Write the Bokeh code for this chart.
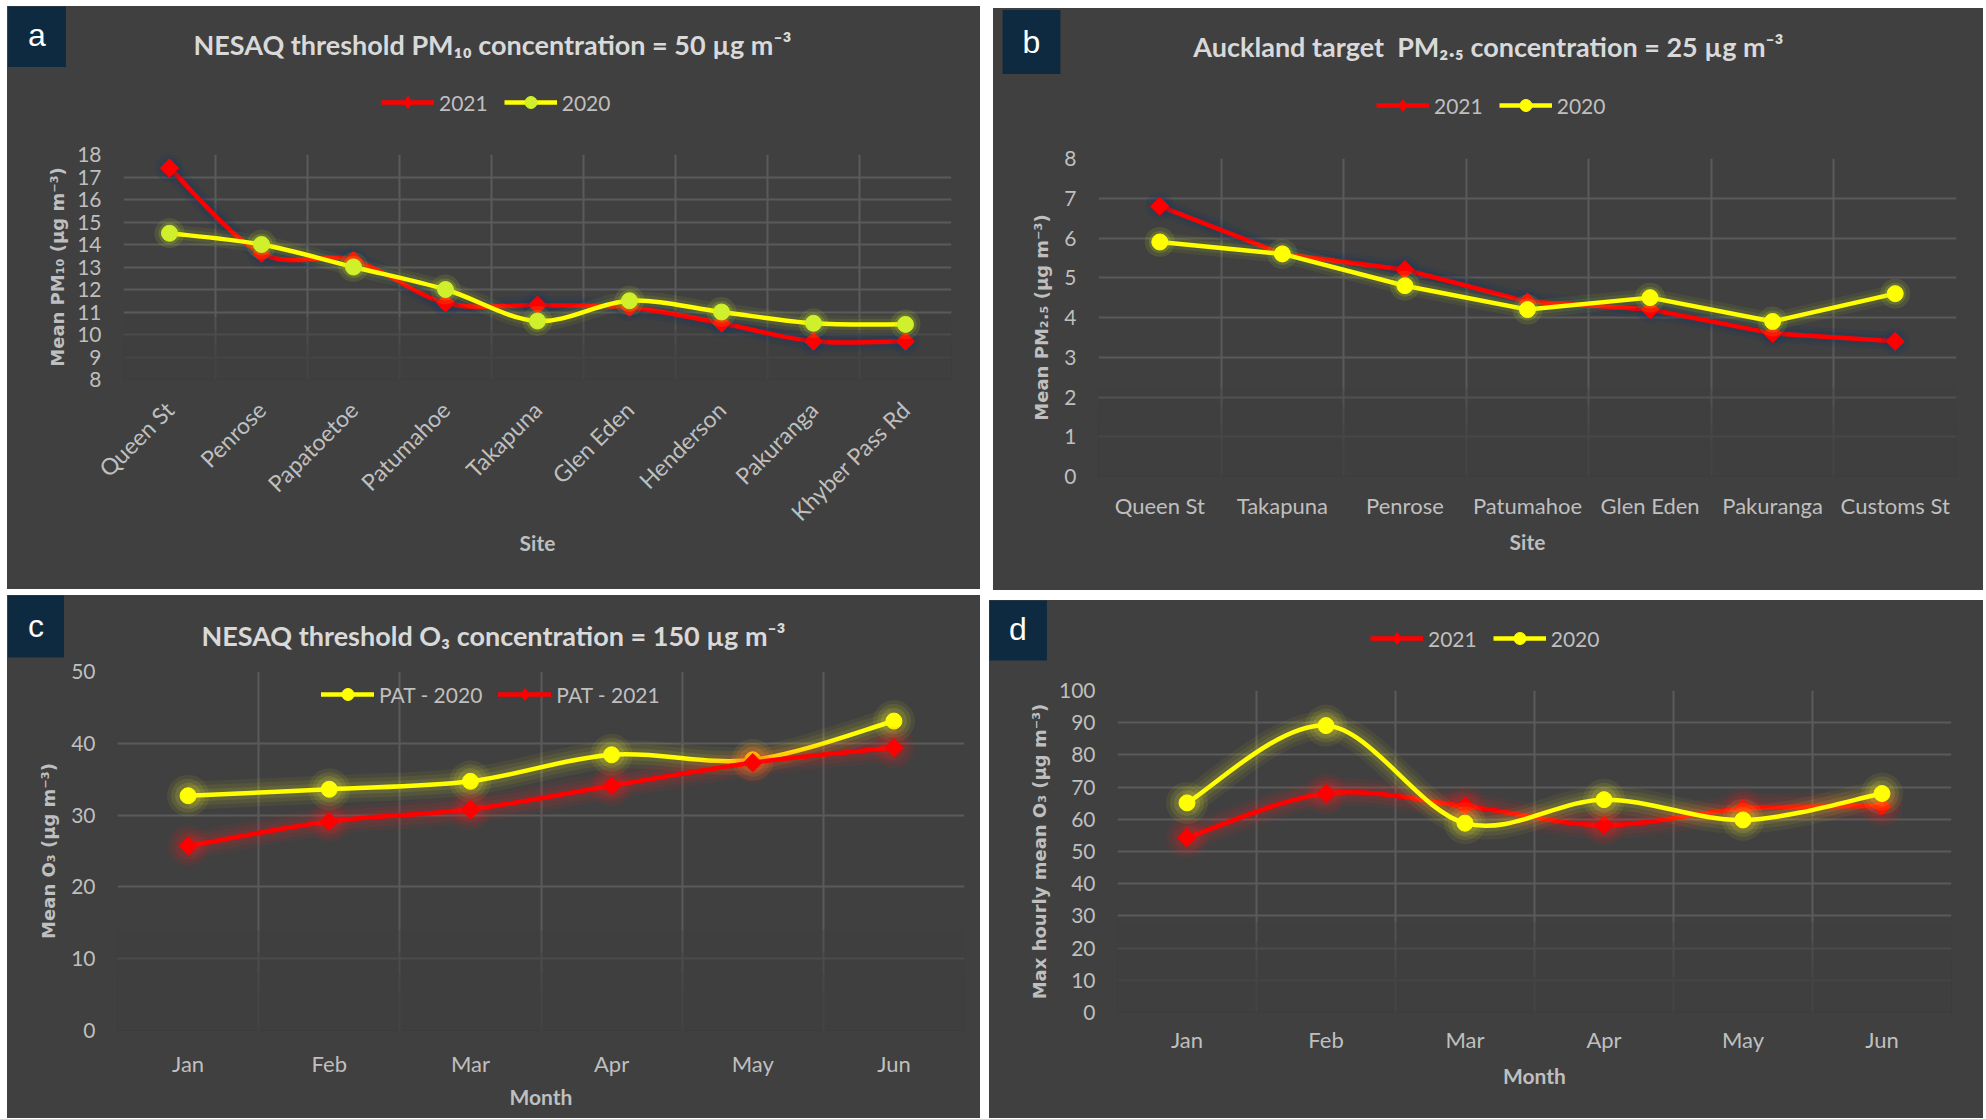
import math
from bokeh.plotting import figure
from bokeh.models import (FactorRange, Range1d, FixedTicker, Label, Legend, LegendItem,
                          BoxAnnotation, ColumnDataSource, Spacer)
from bokeh.layouts import row, column
from bokeh.embed import file_html
from bokeh.resources import INLINE

# ---------------- data ----------------
sites_a = ["Queen St", "Penrose", "Papatoetoe", "Patumahoe", "Takapuna",
           "Glen Eden", "Henderson", "Pakuranga", "Khyber Pass Rd"]
pm10_2021 = [17.4, 13.6, 13.3, 11.4, 11.3, 11.2, 10.5, 9.7, 9.7]
pm10_2020 = [14.5, 14.0, 13.0, 12.0, 10.6, 11.5, 11.0, 10.5, 10.45]
pm10_ticks = [8, 9, 10, 11, 12, 13, 14, 15, 16, 17, 18]

sites_b = ["Queen St", "Takapuna", "Penrose", "Patumahoe", "Glen Eden", "Pakuranga", "Customs St"]
pm25_2021 = [6.8, 5.6, 5.2, 4.4, 4.2, 3.6, 3.4]
pm25_2020 = [5.9, 5.6, 4.8, 4.2, 4.5, 3.9, 4.6]
pm25_ticks = [0, 1, 2, 3, 4, 5, 6, 7, 8]

months = ["Jan", "Feb", "Mar", "Apr", "May", "Jun"]
o3_pat_2020 = [32.7, 33.6, 34.7, 38.4, 37.7, 43.1]
o3_pat_2021 = [25.7, 29.1, 30.8, 34.1, 37.3, 39.4]
o3_ticks = [0, 10, 20, 30, 40, 50]

o3max_2021 = [54.3, 68.0, 64.1, 58.2, 63.3, 64.1]
o3max_2020 = [65.1, 89.1, 58.8, 66.1, 59.8, 68.0]
o3max_ticks = [0, 10, 20, 30, 40, 50, 60, 70, 80, 90, 100]

# ---------------- style ----------------
BG = "#404040"
GRID = "#5a5a5a"
TICK = "#bfbfbf"
TITLE = "#d9d9d9"
NAVY = "#0d2a40"
RED = "#ff0000"
YEL = "#ffff00"
LIME = "#cff02a"
FONT = "Lato"
LW = 4.5
DIAMOND = 13
CIRCLE = 16


def smooth_source(n, ys):
    xs = [i + 0.5 for i in range(n)]
    d = dict(x0=[], y0=[], x1=[], y1=[], cx0=[], cy0=[], cx1=[], cy1=[])
    for i in range(n - 1):
        a = max(i - 1, 0)
        b = min(i + 2, n - 1)
        d["x0"].append(xs[i]); d["y0"].append(ys[i])
        d["x1"].append(xs[i + 1]); d["y1"].append(ys[i + 1])
        d["cx0"].append(xs[i] + (xs[i + 1] - xs[a]) / 6.0)
        d["cy0"].append(ys[i] + (ys[i + 1] - ys[a]) / 6.0)
        d["cx1"].append(xs[i + 1] - (xs[b] - xs[i]) / 6.0)
        d["cy1"].append(ys[i + 1] - (ys[b] - ys[i]) / 6.0)
    return ColumnDataSource(d)


def make_main(width, height, top, left, frame, cats, yticks, ylabel, xlabel,
              xrot=0.0, xfs="22px", ylab_standoff=12, xlab_standoff=16, xtick_standoff=20):
    L, T, R, B = frame
    p = figure(width=width, height=height,
               x_range=FactorRange(factors=cats),
               y_range=Range1d(yticks[0], yticks[-1]),
               output_backend="svg", toolbar_location=None,
               background_fill_color=BG, border_fill_color=BG, outline_line_color=None,
               min_border_left=L - left, min_border_right=left + width - R,
               min_border_top=T - top, min_border_bottom=top + height - B)
    p.yaxis.ticker = FixedTicker(ticks=yticks)
    for ax in (p.xaxis[0], p.yaxis[0]):
        ax.axis_line_color = None
        ax.major_tick_line_color = None
        ax.minor_tick_line_color = None
        ax.major_tick_out = 0
        ax.major_tick_in = 0
        ax.major_label_text_color = TICK
        ax.major_label_text_font = FONT
        ax.axis_label_text_color = TICK
    p.yaxis.major_label_text_font_size = "21px"
    p.yaxis.major_label_standoff = 22
    p.yaxis.axis_label = ylabel
    p.yaxis.axis_label_text_font = "DejaVu Sans"
    p.yaxis.axis_label_text_font_style = "bold"
    p.yaxis.axis_label_text_font_size = "18px"
    p.yaxis.axis_label_standoff = ylab_standoff
    p.xaxis.major_label_text_font_size = xfs
    p.xaxis.major_label_standoff = xtick_standoff
    if xrot:
        p.xaxis.major_label_orientation = xrot
    p.xaxis.axis_label = xlabel
    p.xaxis.axis_label_text_font = FONT
    p.xaxis.axis_label_text_font_style = "bold"
    p.xaxis.axis_label_text_font_size = "21px"
    p.xaxis.axis_label_standoff = xlab_standoff
    p.ygrid.ticker = FixedTicker(ticks=yticks[1:])
    p.xgrid.ticker = FixedTicker(ticks=list(range(len(cats) + 1)))
    for g in (p.xgrid[0], p.ygrid[0]):
        g.grid_line_color = GRID
        g.grid_line_width = 2
    # soft fade of the plot area towards the bottom
    span = yticks[-1] - yticks[0]
    for f in (0.28, 0.22, 0.16, 0.11):
        p.add_layout(BoxAnnotation(bottom=yticks[0], top=yticks[0] + f * span,
                                   fill_color=BG, fill_alpha=0.3, line_alpha=0,
                                   level="underlay"))
    return p


def legend_marker(p, cats, ys, marker, mcolor):
    # marker used as the legend symbol (a plain diamond hidden under the rotated square)
    if marker == "diamond":
        return p.scatter(x=cats, y=ys, marker="diamond", size=DIAMOND,
                         fill_color=mcolor, line_color=mcolor)
    return p.scatter(x=cats, y=ys, marker="circle", size=CIRCLE, fill_color=mcolor, line_color=mcolor)


def add_series(p, cats, ys, color, marker, mcolor, glow, smooth, glow_w, halo):
    n = len(cats)
    if smooth:
        src = smooth_source(n, ys)
        kw = dict(x0="x0", y0="y0", x1="x1", y1="y1", cx0="cx0", cy0="cy0",
                  cx1="cx1", cy1="cy1", source=src)
        for w, a in glow_w:
            p.bezier(line_color=glow, line_width=w, line_alpha=a, line_cap="butt", **kw)
        main = p.bezier(line_color=color, line_width=LW, line_cap="round", **kw)
    else:
        for w, a in glow_w:
            p.line(x=cats, y=ys, line_color=glow, line_width=w, line_alpha=a, line_join="round")
        main = p.line(x=cats, y=ys, line_color=color, line_width=LW, line_join="round")
    for s, a in halo:
        p.scatter(x=cats, y=ys, marker="circle", size=s, fill_color=glow, fill_alpha=a, line_alpha=0)
    leg_sc = legend_marker(p, cats, ys, marker, mcolor)
    if marker == "diamond":
        p.scatter(x=cats, y=ys, marker="square", angle=math.pi / 4, size=DIAMOND,
                  fill_color=mcolor, line_color=mcolor)
    return [main, leg_sc]


def make_legend(target, items, loc):
    gh = 30
    leg = Legend(items=[LegendItem(label=lab, renderers=r) for lab, r in items],
                 location=loc, orientation="horizontal", padding=0, margin=0,
                 spacing=16, glyph_width=53, glyph_height=gh, label_height=gh,
                 label_standoff=5, label_text_font=FONT, label_text_font_size="21px",
                 label_text_color=TICK, background_fill_alpha=0, border_line_alpha=0)
    target.add_layout(leg)


def make_header(width, height, left, top, letter, box_c, title, title_c,
                cats=None, leg_specs=None, leg_left=None, leg_cy=None):
    # the header shares the categories; its value range lies below all data,
    # so the series drawn here only serve as legend entries
    h = figure(width=width, height=height,
               x_range=FactorRange(factors=cats if cats else ["-"]), y_range=Range1d(-2, -1),
               x_axis_location=None, y_axis_location=None,
               output_backend="svg", toolbar_location=None,
               background_fill_color=BG, border_fill_color=BG, outline_line_color=None,
               min_border=0)
    h.grid.visible = False
    bottom = top + height

    def rel(px, py):
        return px - left, bottom - py

    bx, by = rel(*box_c)
    h.add_layout(Label(x=bx, y=by, x_units="screen", y_units="screen", text=letter,
                       text_align="center", text_baseline="middle", text_color="white",
                       text_font="Liberation Sans", text_font_size="32px",
                       background_fill_color=NAVY, padding=(20, 14)))
    if title:
        tx, ty = rel(*title_c)
        h.add_layout(Label(x=tx, y=ty, x_units="screen", y_units="screen", text=title,
                           text_align="center", text_baseline="middle", text_color=TITLE,
                           text_font=FONT, text_font_style="bold", text_font_size="27px"))
    if leg_specs:
        items = []
        for lab, ys, c, m, mc in leg_specs:
            ln = h.line(x=cats, y=ys, line_color=c, line_width=LW)
            sc = legend_marker(h, cats, ys, m, mc)
            items.append((lab, [ln, sc]))
        make_legend(h, items, rel(leg_left, leg_cy + 15))
    return h


# ---------------- panel a ----------------
A_left, A_top, A_w, A_h, A_hh = 7, 6, 973, 583, 136
fa = (123, 154, 951, 379)
ma = make_main(A_w, A_h - A_hh, A_top + A_hh, A_left, fa, sites_a, pm10_ticks,
               "Mean PM\u2081\u2080 (\u00b5g m\u207b\u00b3)", "Site", xrot=math.pi / 4, xfs="23px",
               ylab_standoff=6, xlab_standoff=-9, xtick_standoff=26)
ab_red_glow = [(18, 0.18), (11, 0.25)]
ab_yel_glow = [(18, 0.07), (11, 0.1)]
add_series(ma, sites_a, pm10_2021, RED, "diamond", RED, "#1c3660", True, ab_red_glow, [(28, 0.2), (20, 0.25)])
add_series(ma, sites_a, pm10_2020, YEL, "circle", LIME, "#c8e61e", True, ab_yel_glow, [(30, 0.12), (22, 0.18)])
ha = make_header(A_w, A_hh, A_left, A_top, "a", (36.5, 34.5),
                 "NESAQ threshold PM\u2081\u2080 concentration = 50 \u00b5g m\u207b\u00b3", (492, 43.5),
                 sites_a, [("2021", pm10_2021, RED, "diamond", RED),
                           ("2020", pm10_2020, YEL, "circle", LIME)], 381, 102)

# ---------------- panel b ----------------
B_left, B_top, B_w, B_h, B_hh = 993, 8, 990, 582, 138
fb = (1098, 158, 1956, 476)
mb = make_main(B_w, B_h - B_hh, B_top + B_hh, B_left, fb, sites_b, pm25_ticks,
               "Mean PM\u2082.\u2085 (\u00b5g m\u207b\u00b3)", "Site",
               ylab_standoff=9, xlab_standoff=7, xtick_standoff=15)
add_series(mb, sites_b, pm25_2021, RED, "diamond", RED, "#1c3660", False, ab_red_glow, [(28, 0.2), (20, 0.25)])
add_series(mb, sites_b, pm25_2020, YEL, "circle", YEL, "#c8e61e", False, ab_yel_glow, [(30, 0.12), (22, 0.18)])
hb = make_header(B_w, B_hh, B_left, B_top, "b", (1031, 41.5),
                 "Auckland target\u00a0 PM\u2082.\u2085 concentration = 25 \u00b5g m\u207b\u00b3", (1488, 46),
                 sites_b, [("2021", pm25_2021, RED, "diamond", RED),
                           ("2020", pm25_2020, YEL, "circle", YEL)], 1376, 105)

# ---------------- panel c ----------------
C_left, C_top, C_w, C_h, C_hh = 7, 595, 973, 523, 64
fc = (117, 671, 964, 1030)
mc = make_main(C_w, C_h - C_hh, C_top + C_hh, C_left, fc, months, o3_ticks,
               "Mean O\u2083 (\u00b5g m\u207b\u00b3)", "Month",
               ylab_standoff=9, xlab_standoff=4, xtick_standoff=19)
cd_red_glow = [(28, 0.06), (20, 0.08), (12, 0.1)]
cd_yel_glow = [(28, 0.05), (20, 0.07), (12, 0.09)]
cd_halo = [(42, 0.07), (34, 0.09), (26, 0.12)]
yc = add_series(mc, months, o3_pat_2020, YEL, "circle", YEL, "#ffff30", True, cd_yel_glow, cd_halo)
rc = add_series(mc, months, o3_pat_2021, RED, "diamond", RED, "#ff2020", True, cd_red_glow, cd_halo)
make_legend(mc, [("PAT - 2020", yc), ("PAT - 2021", rc)], (321 - fc[0], fc[3] - (694 + 15)))
hc = make_header(C_w, C_hh, C_left, C_top, "c", (35.5, 625),
                 "NESAQ threshold O\u2083 concentration = 150 \u00b5g m\u207b\u00b3", (493, 635))

# ---------------- panel d ----------------
D_left, D_top, D_w, D_h, D_hh = 989, 600, 994, 518, 78
fd = (1117, 690, 1951, 1012)
md = make_main(D_w, D_h - D_hh, D_top + D_hh, D_left, fd, months, o3max_ticks,
               "Max hourly mean O\u2083 (\u00b5g m\u207b\u00b3)", "Month",
               ylab_standoff=6, xlab_standoff=7, xtick_standoff=13)
add_series(md, months, o3max_2021, RED, "diamond", RED, "#ff2020", True, cd_red_glow, cd_halo)
add_series(md, months, o3max_2020, YEL, "circle", YEL, "#ffff30", True, cd_yel_glow, cd_halo)
hd = make_header(D_w, D_hh, D_left, D_top, "d", (1017.5, 628), None, None,
                 months, [("2021", o3max_2021, RED, "diamond", RED),
                          ("2020", o3max_2020, YEL, "circle", YEL)], 1370, 638)

dark = {"background-color": BG}
colA = column(column(ha), column(ma), styles=dark)
colB = column(Spacer(width=B_w, height=B_top - A_top), column(column(hb), column(mb), styles=dark))
colC = column(column(hc), column(mc), styles=dark)
colD = column(Spacer(width=D_w, height=D_top - C_top), column(column(hd), column(md), styles=dark))

layout = column(
    Spacer(width=10, height=A_top),
    row(Spacer(width=A_left, height=10), colA, Spacer(width=B_left - A_left - A_w, height=10), colB),
    Spacer(width=10, height=C_top - A_top - 584),
    row(Spacer(width=C_left, height=10), colC, Spacer(width=D_left - C_left - C_w, height=10), colD),
)

open("out.html", "w").write(file_html(layout, INLINE))
